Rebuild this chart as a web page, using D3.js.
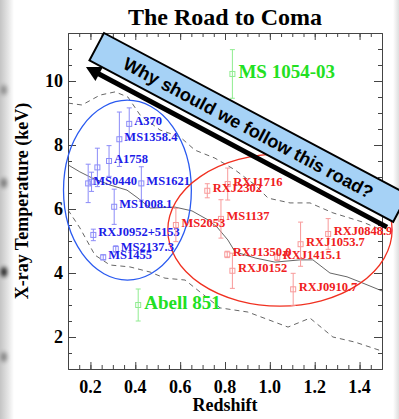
<!DOCTYPE html>
<html><head><meta charset="utf-8">
<script src="https://cdn.jsdelivr.net/npm/d3@7"></script>
<style>html,body{margin:0;padding:0;background:#fff;}svg{display:block;}</style>
</head><body>
<script>
// ---- data ----
const blueNames = ["A370","MS1358.4","A1758","","MS0440","","MS1621","MS1008.1","RXJ0952+5153","MS2137.3","MS1455"];
const blueZ     = [0.373,0.329,0.283,0.231,0.190,0.205,0.427,0.306,0.213,0.313,0.257];
const blueT     = [8.66,8.18,7.50,7.30,6.80,6.85,6.80,6.07,5.19,4.75,4.49];
const blueErr   = [0.50,0.85,0.48,0.60,0.60,0.30,0.52,0.55,0.18,0.10,0.08];

const redNames = ["RXJ2302","RXJ1716","MS1137","MS2053","RXJ1350.0","RXJ0152","RXJ1415.1","RXJ1053.7","RXJ0848.9","RXJ0910.7"];
const redZ     = [0.721,0.812,0.782,0.581,0.810,0.833,1.033,1.137,1.260,1.104];
const redT     = [6.57,6.78,5.69,5.50,4.58,4.07,4.49,4.90,5.22,3.49];
const redErr   = [0.22,0.50,0.60,0.52,0.10,0.55,0.10,0.69,0.48,0.50];

const greenNames = ["MS 1054-03","Abell 851"];
const greenZ     = [0.833,0.413];
const greenT     = [10.22,3.00];
const greenErr   = [0.76,0.50];

const solidZ = [0.100,0.153,0.207,0.287,0.363,0.412,0.466,0.577,0.653,0.724,0.764,0.813,0.845,0.934,1.023,1.134,1.192,1.268,1.344,1.402,1.500];
const solidT = [7.38,7.16,6.97,6.75,6.59,6.34,6.03,6.06,5.94,5.66,5.44,5.03,4.66,4.47,4.34,4.41,4.41,4.00,3.88,3.72,3.44];
const upperZ = [0.100,0.162,0.243,0.310,0.367,0.421,0.510,0.600,0.666,0.755,0.845,0.934,0.992,1.090,1.179,1.281,1.415,1.500];
const upperT = [9.31,9.25,9.56,9.66,9.50,8.94,8.47,8.25,7.84,7.59,7.22,6.75,6.34,6.19,6.19,5.88,5.59,5.34];
const lowerZ = [0.100,0.153,0.220,0.287,0.376,0.466,0.532,0.622,0.688,0.778,0.902,1.081,1.179,1.281,1.380,1.500];
const lowerT = [5.97,5.41,4.56,4.25,4.19,4.03,3.84,3.78,3.41,2.91,2.78,2.31,2.59,2.00,1.84,1.56];

// ellipses: center z, center T, radius z, radius T
const blueEllipse = [0.365, 6.59, 0.285, 2.81];
const redEllipse  = [1.045, 5.34, 0.50, 2.375];

const xTicks = [0.2,0.4,0.6,0.8,1.0,1.2,1.4];
const yTicks = [2,4,6,8,10];
const title = "The Road to Coma";
const xLabel = "Redshift";
const yLabel = "X-ray Temperature (keV)";
const banner = "Why should we follow this road?";

// ---- drawing ----
const W = 399, H = 419;
const svg = d3.select("body").append("svg").attr("width", W).attr("height", H);
const defs = svg.append("defs");

// photo-like edges
const lg = defs.append("linearGradient").attr("id","lg").attr("x1","0").attr("x2","1");
lg.append("stop").attr("offset","0").attr("stop-color","#c4c4c4");
lg.append("stop").attr("offset","0.6").attr("stop-color","#e6e6e6");
lg.append("stop").attr("offset","1").attr("stop-color","#ffffff");
svg.append("rect").attr("x",0).attr("y",0).attr("width",14).attr("height",H).attr("fill","url(#lg)");
const blur = defs.append("filter").attr("id","bl").attr("x","-2").attr("y","-2").attr("width","5").attr("height","5");
blur.append("feGaussianBlur").attr("stdDeviation",2.2);
[[90,0.35],[183,0.45],[272,0.9],[357,0.4]].forEach(([yy,o]) => {
  svg.append("ellipse").attr("cx",4).attr("cy",yy).attr("rx",3).attr("ry",5).attr("fill","#000").attr("opacity",o).attr("filter","url(#bl)");
});
const rg = defs.append("linearGradient").attr("id","rg").attr("x1","0").attr("x2","1");
rg.append("stop").attr("offset","0").attr("stop-color","#ffffff");
rg.append("stop").attr("offset","1").attr("stop-color","#dedede");
svg.append("rect").attr("x",393).attr("y",0).attr("width",6).attr("height",H).attr("fill","url(#rg)");

const m = {l:68, r:382, t:33, b:369};
const x = d3.scaleLinear().domain([0.1,1.5]).range([m.l,m.r]);
const y = d3.scaleLinear().domain([1,11.5]).range([m.b,m.t]);

const serif = "'Liberation Serif','Times New Roman',Times,serif";
const axisColor = "#444";

// axes
function styleAxis(g){ g.select(".domain").attr("stroke",axisColor); g.selectAll("line").attr("stroke",axisColor); g.selectAll("text").remove(); }
const xMinor = d3.range(0.15,1.5,0.05).map(v=>+v.toFixed(2));
const yMinor = d3.range(1.5,11.5,0.5);
svg.append("g").attr("transform",`translate(0,${m.b})`).call(d3.axisBottom(x).tickValues(xMinor).tickSize(-4).tickSizeOuter(0)).call(styleAxis);
svg.append("g").attr("transform",`translate(0,${m.b})`).call(d3.axisBottom(x).tickValues(xTicks).tickSize(-7).tickSizeOuter(0)).call(styleAxis);
svg.append("g").attr("transform",`translate(0,${m.t})`).call(d3.axisTop(x).tickValues(xMinor).tickSize(-4).tickSizeOuter(0)).call(styleAxis);
svg.append("g").attr("transform",`translate(0,${m.t})`).call(d3.axisTop(x).tickValues(xTicks).tickSize(-7).tickSizeOuter(0)).call(styleAxis);
svg.append("g").attr("transform",`translate(${m.l},0)`).call(d3.axisLeft(y).tickValues(yMinor).tickSize(-4).tickSizeOuter(0)).call(styleAxis);
svg.append("g").attr("transform",`translate(${m.l},0)`).call(d3.axisLeft(y).tickValues(yTicks).tickSize(-8).tickSizeOuter(0)).call(styleAxis);
svg.append("g").attr("transform",`translate(${m.r},0)`).call(d3.axisRight(y).tickValues(yMinor).tickSize(-4).tickSizeOuter(0)).call(styleAxis);
svg.append("g").attr("transform",`translate(${m.r},0)`).call(d3.axisRight(y).tickValues(yTicks).tickSize(-8).tickSizeOuter(0)).call(styleAxis);

// tick labels
svg.append("g").selectAll("text").data(xTicks).join("text")
  .attr("x",d=>x(d)).attr("y",m.b+24).attr("text-anchor","middle")
  .attr("font-family",serif).attr("font-weight","bold").attr("font-size",18).text(d=>d.toFixed(1));
svg.append("g").selectAll("text").data(yTicks).join("text")
  .attr("x",m.l-5).attr("y",d=>y(d)).attr("dy","0.35em").attr("text-anchor","end")
  .attr("font-family",serif).attr("font-weight","bold").attr("font-size",18).text(d=>d);

svg.append("text").attr("x",225).attr("y",25).attr("text-anchor","middle")
  .attr("font-family",serif).attr("font-weight","bold").attr("font-size",24).text(title);
svg.append("text").attr("x",225).attr("y",411).attr("text-anchor","middle")
  .attr("font-family",serif).attr("font-weight","bold").attr("font-size",18).text(xLabel);
svg.append("text").attr("transform",`translate(28,${(m.t+m.b)/2}) rotate(-90)`).attr("text-anchor","middle")
  .attr("font-family",serif).attr("font-weight","bold").attr("font-size",18).text(yLabel);

// model lines
const line = d3.line().x(d=>x(d[0])).y(d=>y(d[1]));
svg.append("path").attr("d",line(d3.zip(solidZ,solidT))).attr("fill","none").attr("stroke","#555").attr("stroke-width",0.9);
svg.append("path").attr("d",line(d3.zip(upperZ,upperT))).attr("fill","none").attr("stroke","#555").attr("stroke-width",0.9).attr("stroke-dasharray","5,4");
svg.append("path").attr("d",line(d3.zip(lowerZ,lowerT))).attr("fill","none").attr("stroke","#555").attr("stroke-width",0.9).attr("stroke-dasharray","5,4");

// ellipses
function ell(e,color){
  svg.append("ellipse").attr("cx",x(e[0])).attr("cy",y(e[1]))
    .attr("rx",x(e[0]+e[2])-x(e[0])).attr("ry",y(e[1])-y(e[1]+e[3]))
    .attr("fill","none").attr("stroke",color).attr("stroke-width",1.3);
}
ell(blueEllipse,"#2a5af0");
ell(redEllipse,"#f03020");

// points
function pts(names,zs,ts,errs,barColor,txtColor,fs,dx,dy){
  const g = svg.append("g");
  const data = names.map((n,i)=>({n,z:zs[i],t:ts[i],e:errs[i]}));
  g.selectAll("line.eb").data(data).join("line").attr("class","eb")
    .attr("x1",d=>x(d.z)).attr("x2",d=>x(d.z)).attr("y1",d=>y(d.t+d.e)).attr("y2",d=>y(d.t-d.e))
    .attr("stroke",barColor).attr("stroke-width",1);
  g.selectAll("line.c1").data(data).join("line").attr("class","c1")
    .attr("x1",d=>x(d.z)-2.5).attr("x2",d=>x(d.z)+2.5).attr("y1",d=>y(d.t+d.e)).attr("y2",d=>y(d.t+d.e))
    .attr("stroke",barColor).attr("stroke-width",1);
  g.selectAll("line.c2").data(data).join("line").attr("class","c2")
    .attr("x1",d=>x(d.z)-2.5).attr("x2",d=>x(d.z)+2.5).attr("y1",d=>y(d.t-d.e)).attr("y2",d=>y(d.t-d.e))
    .attr("stroke",barColor).attr("stroke-width",1);
  g.selectAll("rect").data(data).join("rect")
    .attr("x",d=>x(d.z)-2.5).attr("y",d=>y(d.t)-2.5).attr("width",5).attr("height",5)
    .attr("fill","none").attr("stroke",barColor).attr("stroke-width",1);
  g.selectAll("text").data(data.filter(d=>d.n)).join("text")
    .attr("x",d=>x(d.z)+dx).attr("y",d=>y(d.t)+dy)
    .attr("font-family",serif).attr("font-weight","bold").attr("font-size",fs)
    .attr("fill",txtColor).text(d=>d.n);
}
pts(blueNames,blueZ,blueT,blueErr,"#8c8cf8","#1c1ce8",12.5,5,1.5);
pts(redNames,redZ,redT,redErr,"#f89a9a","#f02020",12.5,5.5,1.5);
pts(greenNames,greenZ,greenT,greenErr,"#90ec90","#22e022",19,6,4);

// banner with arrow
const bg = svg.append("g").attr("transform","translate(104,33) rotate(28)");
bg.append("line").attr("x1",10).attr("x2",341).attr("y1",38.5).attr("y2",38.5).attr("stroke","#000").attr("stroke-width",5);
bg.append("path").attr("d","M0,38.5 L15,30.5 L15,46.5 Z").attr("fill","#000");
bg.append("rect").attr("x",0).attr("y",0).attr("width",344).attr("height",31)
  .attr("fill","#a6d2f6").attr("stroke","#000").attr("stroke-width",2);
bg.append("text").attr("x",172).attr("y",16).attr("dy","0.35em").attr("text-anchor","middle")
  .attr("font-family","'Liberation Sans',Arial,Helvetica,sans-serif").attr("font-weight","bold").attr("font-size",18)
  .attr("fill","#000").text(banner);
</script>
</body></html>
